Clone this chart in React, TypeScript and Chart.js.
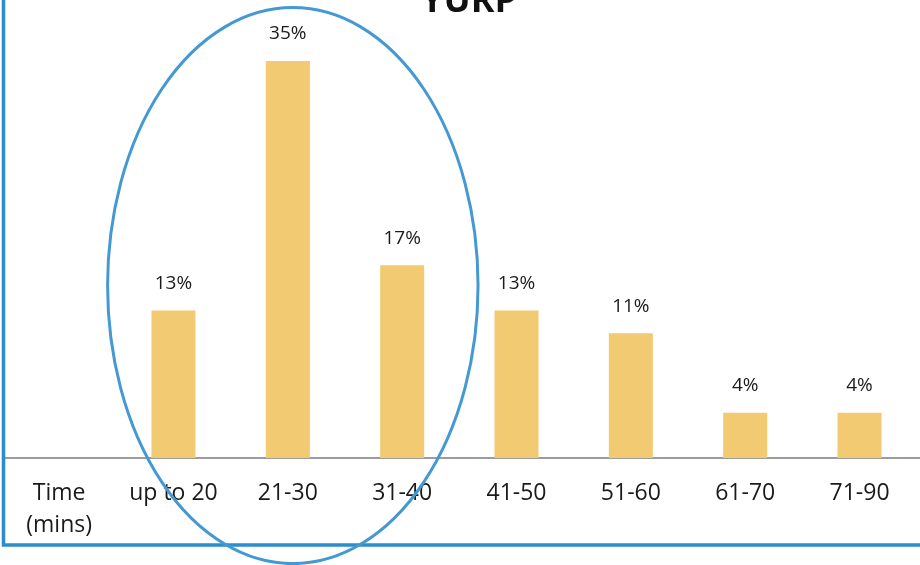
import React, { useEffect, useRef } from "react";
import { Chart, registerables } from "chart.js";

Chart.register(...registerables);

// Commute time distribution
const categories = ["up to 20", "21-30", "31-40", "41-50", "51-60", "61-70", "71-90"];
const shares = [13, 35, 17, 13, 11, 4, 4];
const axisCaption = ["Time", "(mins)"];
const chartTitle = "YURP";

const BAR_COLOR = "#f1ca72";
const TEXT_COLOR = "#1a1a1a";
const FRAME_BLUE = "#2b8dcd";
const RING_BLUE = "#4599d2";
const FONT = "'Open Sans', sans-serif";
const LABEL_SIZE = 23;

const decorations = {
  id: "decorations",
  beforeDatasetsDraw(chart: any) {
    const { ctx, chartArea, width } = chart;
    ctx.save();
    // baseline across the whole frame
    ctx.strokeStyle = "#9c9c9c";
    ctx.lineWidth = 2;
    ctx.beginPath();
    ctx.moveTo(4, chartArea.bottom);
    ctx.lineTo(width, chartArea.bottom);
    ctx.stroke();
    ctx.restore();
  },
  afterDraw(chart: any) {
    const { ctx, scales, width } = chart;
    const x = scales.x;
    const y = scales.y;
    const slot = x.getPixelForValue(1) - x.getPixelForValue(0);
    ctx.save();

    // title, partially cut by the top edge
    ctx.fillStyle = "#111";
    ctx.font = `bold 36px ${FONT}`;
    ctx.textAlign = "center";
    ctx.textBaseline = "alphabetic";
    ctx.fillText(chartTitle, 469, 12);

    // value labels above bars
    ctx.font = `19px ${FONT}`;
    ctx.fillStyle = TEXT_COLOR;
    ctx.textBaseline = "middle";
    const meta = chart.getDatasetMeta(0);
    meta.data.forEach((bar: any, i: number) => {
      ctx.fillText(`${shares[i]}%`, bar.x, bar.y - 27);
    });

    // axis caption to the left of the first category
    ctx.font = `${LABEL_SIZE}px ${FONT}`;
    const capX = x.getPixelForValue(0) - slot;
    ctx.fillText(axisCaption[0], capX, 493);
    ctx.fillText(axisCaption[1], capX, 525);

    // frame on the left and bottom
    ctx.strokeStyle = FRAME_BLUE;
    ctx.lineWidth = 3.5;
    ctx.beginPath();
    ctx.moveTo(3.5, 0);
    ctx.lineTo(3.5, 545);
    ctx.lineTo(width, 545);
    ctx.stroke();

    // ring around the first three groups
    const cx = x.getPixelForValue(1) + 5;
    const cy = y.getPixelForValue(15.2);
    ctx.strokeStyle = RING_BLUE;
    ctx.lineWidth = 3;
    ctx.beginPath();
    ctx.ellipse(cx, cy, slot * 1.62, 278, 0, 0, Math.PI * 2);
    ctx.stroke();

    ctx.restore();
  },
};

export default function App() {
  const canvasRef = useRef<HTMLCanvasElement | null>(null);

  useEffect(() => {
    if (!canvasRef.current) return;
    const chart = new Chart(canvasRef.current, {
      type: "bar",
      data: {
        labels: categories,
        datasets: [
          {
            data: shares,
            backgroundColor: BAR_COLOR,
            borderWidth: 0,
            categoryPercentage: 1,
            barPercentage: 0.385,
          },
        ],
      },
      options: {
        animation: false,
        responsive: false,
        maintainAspectRatio: false,
        layout: { padding: { top: 4.3, left: 116.3, right: 3.3, bottom: 0 } },
        plugins: {
          legend: { display: false },
          title: { display: false },
          tooltip: { enabled: false },
        },
        scales: {
          x: {
            grid: { display: false, drawTicks: false },
            border: { display: false },
            ticks: {
              color: TEXT_COLOR,
              font: { family: FONT, size: LABEL_SIZE },
              padding: 21.2,
              maxRotation: 0,
              autoSkip: false,
            },
            afterFit(scale: any) {
              scale.height = 107;
            },
          },
          y: {
            display: false,
            min: 0,
            max: 40,
          },
        },
      },
      plugins: [decorations],
    });
    return () => chart.destroy();
  }, []);

  return (
    <div
      style={{
        position: "absolute",
        left: 0,
        top: 0,
        width: 920,
        height: 565,
        background: "#fff",
        overflow: "hidden",
      }}
    >
      <canvas ref={canvasRef} width={920} height={565} style={{ display: "block" }} />
    </div>
  );
}
